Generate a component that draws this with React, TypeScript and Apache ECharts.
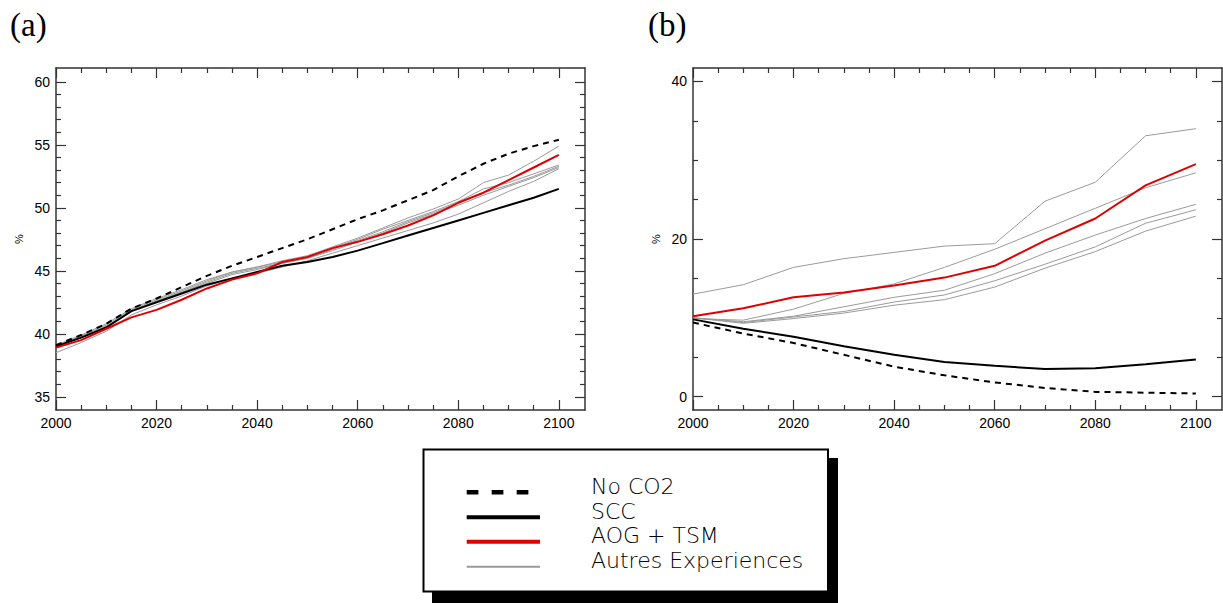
import React, { useEffect, useRef } from "react";
import * as echarts from "echarts";

// ---------- Panel (a) data ----------
const yearsA = [2000, 2005, 2010, 2015, 2020, 2025, 2030, 2035, 2040, 2045, 2050, 2055, 2060, 2065, 2070, 2075, 2080, 2085, 2090, 2095, 2100];
const noCO2A = [39.1, 39.9, 40.8, 42.0, 42.8, 43.7, 44.6, 45.4, 46.1, 46.8, 47.5, 48.3, 49.1, 49.8, 50.6, 51.4, 52.5, 53.5, 54.3, 54.9, 55.4];
const sccA = [39.0, 39.7, 40.5, 41.8, 42.5, 43.2, 43.9, 44.4, 44.9, 45.4, 45.7, 46.1, 46.6, 47.2, 47.8, 48.4, 49.0, 49.6, 50.2, 50.8, 51.5];
const aogA = [38.9, 39.5, 40.4, 41.3, 41.9, 42.7, 43.6, 44.3, 44.8, 45.7, 46.1, 46.8, 47.3, 47.9, 48.6, 49.4, 50.4, 51.2, 52.2, 53.2, 54.2];
const autresA1 = [39.1, 39.9, 40.8, 42.0, 42.8, 43.5, 44.3, 44.9, 45.3, 45.8, 46.2, 46.9, 47.6, 48.4, 49.2, 49.9, 50.7, 52.0, 52.6, 53.7, 54.9];
const autresA2 = [39.0, 39.8, 40.7, 41.9, 42.7, 43.4, 44.2, 44.9, 45.3, 45.7, 46.1, 46.8, 47.5, 48.3, 49.0, 49.7, 50.5, 51.5, 52.0, 52.7, 53.4];
const autresA3 = [39.0, 39.8, 40.6, 41.8, 42.6, 43.3, 44.1, 44.8, 45.2, 45.6, 46.0, 46.7, 47.4, 48.1, 48.9, 49.6, 50.4, 51.2, 51.8, 52.5, 53.3];
const autresA4 = [38.9, 39.7, 40.6, 41.8, 42.6, 43.3, 44.0, 44.7, 45.1, 45.6, 46.0, 46.6, 47.3, 48.0, 48.8, 49.5, 50.2, 51.0, 51.7, 52.4, 53.2];
const autresA5 = [38.5, 39.3, 40.2, 41.5, 42.3, 43.0, 43.8, 44.4, 44.8, 45.3, 45.8, 46.4, 47.0, 47.6, 48.2, 48.8, 49.5, 50.4, 51.3, 52.1, 53.1];

// ---------- Panel (b) data ----------
const yearsB = [2000, 2010, 2020, 2030, 2040, 2050, 2060, 2070, 2080, 2090, 2100];
const noCO2B = [9.4, 8.0, 6.8, 5.3, 3.8, 2.7, 1.8, 1.1, 0.6, 0.5, 0.4];
const sccB = [9.8, 8.6, 7.6, 6.4, 5.3, 4.4, 3.9, 3.5, 3.6, 4.1, 4.7];
const aogB = [10.2, 11.2, 12.6, 13.2, 14.1, 15.1, 16.6, 19.8, 22.6, 26.8, 29.5];
const autresB1 = [13.0, 14.2, 16.4, 17.5, 18.3, 19.1, 19.4, 24.8, 27.2, 33.1, 34.0];
const autresB2 = [9.9, 9.7, 11.1, 13.1, 14.3, 16.4, 18.7, 21.3, 23.9, 26.5, 28.4];
const autresB3 = [10.0, 9.5, 10.2, 11.4, 12.6, 13.5, 15.6, 18.2, 20.5, 22.6, 24.4];
const autresB4 = [10.0, 9.4, 10.1, 10.8, 12.0, 12.9, 14.7, 16.8, 19.0, 22.0, 23.7];
const autresB5 = [10.0, 9.3, 9.9, 10.6, 11.6, 12.3, 13.9, 16.3, 18.4, 21.0, 22.9];

// ---------- Ticks ----------
const xMajorTicks = [2000, 2020, 2040, 2060, 2080, 2100];
const xMinorTicks = [2005, 2010, 2015, 2025, 2030, 2035, 2045, 2050, 2055, 2065, 2070, 2075, 2085, 2090, 2095];
const yMajorTicksA = [35, 40, 45, 50, 55, 60];
const yMinorTicksA = [36, 37, 38, 39, 41, 42, 43, 44, 46, 47, 48, 49, 51, 52, 53, 54, 56, 57, 58, 59];
const yMajorTicksB = [0, 20, 40];
const yMinorTicksB = [5, 10, 15, 25, 30, 35];

const legendLabels = ["No CO2", "SCC", "AOG + TSM", "Autres Experiences"];

const AXIS_COLOR = "#333";
const RED = "#e00000";
const GRAY = "#9a9a9a";

function xAxis(gridIndex: number, position: string, ticks: number[], len: number, labels: boolean, line: boolean) {
  return {
    type: "value",
    gridIndex,
    position,
    min: 2000,
    max: 2105.2,
    axisLine: { show: line, onZero: false, lineStyle: { color: AXIS_COLOR, width: 1.5 } },
    axisTick: { show: true, inside: true, length: len, customValues: ticks, lineStyle: { color: AXIS_COLOR, width: 1.2 } },
    axisLabel: {
      show: labels,
      customValues: ticks,
      margin: 6,
      color: "#000",
      fontSize: 14,
      fontFamily: "Liberation Sans",
      formatter: (v: number) => String(v),
    },
    splitLine: { show: false },
  };
}

function yAxis(gridIndex: number, position: string, min: number, max: number, ticks: number[], len: number, labels: boolean, line: boolean, name?: string) {
  return {
    type: "value",
    gridIndex,
    position,
    min,
    max,
    name: name || "",
    nameLocation: "middle",
    nameGap: 32,
    nameRotate: 90,
    nameTextStyle: { fontSize: 11, color: "#000", fontFamily: "Liberation Sans" },
    axisLine: { show: line, onZero: false, lineStyle: { color: AXIS_COLOR, width: 1.5 } },
    axisTick: { show: true, inside: true, length: len, customValues: ticks, lineStyle: { color: AXIS_COLOR, width: 1.2 } },
    axisLabel: {
      show: labels,
      customValues: ticks,
      margin: 6,
      color: "#000",
      fontSize: 14,
      fontFamily: "Liberation Sans",
      formatter: (v: number) => String(v),
    },
    splitLine: { show: false },
  };
}

function lineSeries(name: string, years: number[], vals: number[], color: string, width: number, type: any, xi: number, yi: number, z: number) {
  return {
    type: "line",
    name,
    data: years.map((y, i) => [y, vals[i]]),
    xAxisIndex: xi,
    yAxisIndex: yi,
    symbol: "none",
    showSymbol: false,
    silent: true,
    z,
    lineStyle: { color, width, type },
  };
}

export default function App() {
  const ref = useRef<HTMLDivElement>(null);
  useEffect(() => {
    if (!ref.current) return;
    const chart = echarts.init(ref.current, undefined, { renderer: "svg" });

    const xAxes = [
      xAxis(0, "bottom", xMajorTicks, 10, true, true),
      xAxis(0, "bottom", xMinorTicks, 5, false, false),
      xAxis(0, "top", xMajorTicks, 10, false, true),
      xAxis(0, "top", xMinorTicks, 5, false, false),
      xAxis(1, "bottom", xMajorTicks, 10, true, true),
      xAxis(1, "bottom", xMinorTicks, 5, false, false),
      xAxis(1, "top", xMajorTicks, 10, false, true),
      xAxis(1, "top", xMinorTicks, 5, false, false),
    ];
    const yAxes = [
      yAxis(0, "left", 33.95, 61.1, yMajorTicksA, 10, true, true, "%"),
      yAxis(0, "left", 33.95, 61.1, yMinorTicksA, 5, false, false),
      yAxis(0, "right", 33.95, 61.1, yMajorTicksA, 10, false, true),
      yAxis(0, "right", 33.95, 61.1, yMinorTicksA, 5, false, false),
      yAxis(1, "left", -1.7, 41.7, yMajorTicksB, 10, true, true, "%"),
      yAxis(1, "left", -1.7, 41.7, yMinorTicksB, 5, false, false),
      yAxis(1, "right", -1.7, 41.7, yMajorTicksB, 10, false, true),
      yAxis(1, "right", -1.7, 41.7, yMinorTicksB, 5, false, false),
    ];

    const series: any[] = [];
    [autresA1, autresA2, autresA3, autresA4, autresA5].forEach((arr, k) =>
      series.push(lineSeries("Autres Experiences " + (k + 1), yearsA, arr, GRAY, 1, "solid", 0, 0, 2))
    );
    series.push(lineSeries("SCC", yearsA, sccA, "#000", 2, "solid", 0, 0, 3));
    series.push(lineSeries("No CO2", yearsA, noCO2A, "#000", 2, [6, 5], 0, 0, 3));
    series.push(lineSeries("AOG + TSM", yearsA, aogA, RED, 2, "solid", 0, 0, 4));

    [autresB1, autresB2, autresB3, autresB4, autresB5].forEach((arr, k) =>
      series.push(lineSeries("Autres Experiences b" + (k + 1), yearsB, arr, GRAY, 1, "solid", 4, 4, 2))
    );
    series.push(lineSeries("SCC b", yearsB, sccB, "#000", 2, "solid", 4, 4, 3));
    series.push(lineSeries("No CO2 b", yearsB, noCO2B, "#000", 2, [6, 5], 4, 4, 3));
    series.push(lineSeries("AOG + TSM b", yearsB, aogB, RED, 2, "solid", 4, 4, 4));

    const legendRows = [486.7, 511.3, 535.8, 560.3];
    const textStyle = (text: string, y: number) => ({
      type: "text",
      style: {
        text,
        x: 591,
        y,
        fill: "#000",
        fontSize: 22,
        fontFamily: "DejaVu Sans",
        fontWeight: 200,
        verticalAlign: "middle",
        align: "left",
      },
      z: 20,
    });

    const graphic: any[] = [
      {
        type: "text",
        style: { text: "(a)", x: 10, y: 25, fill: "#000", fontSize: 33, fontFamily: "Liberation Serif", verticalAlign: "middle" },
      },
      {
        type: "text",
        style: { text: "(b)", x: 648, y: 25, fill: "#000", fontSize: 33, fontFamily: "Liberation Serif", verticalAlign: "middle" },
      },
      { type: "rect", shape: { x: 432, y: 458, width: 406, height: 145 }, style: { fill: "#000" }, z: 10 },
      {
        type: "rect",
        shape: { x: 423.5, y: 449.5, width: 404.5, height: 142 },
        style: { fill: "#fff", stroke: "#000", lineWidth: 2 },
        z: 11,
      },
      {
        type: "line",
        shape: { x1: 466.7, y1: 492.3, x2: 528.5, y2: 492.3 },
        style: { stroke: "#000", lineWidth: 4.5, lineDash: [11.7, 13.3] },
        z: 20,
      },
      { type: "line", shape: { x1: 466.7, y1: 517.3, x2: 540, y2: 517.3 }, style: { stroke: "#000", lineWidth: 4 }, z: 20 },
      { type: "line", shape: { x1: 466.7, y1: 541.7, x2: 540, y2: 541.7 }, style: { stroke: RED, lineWidth: 4 }, z: 20 },
      { type: "line", shape: { x1: 466.7, y1: 566.7, x2: 540, y2: 566.7 }, style: { stroke: GRAY, lineWidth: 2 }, z: 20 },
      ...legendLabels.map((t, i) => textStyle(t, legendRows[i])),
    ];

    chart.setOption({
      animation: false,
      backgroundColor: "#fff",
      grid: [
        { left: 56, top: 68, width: 529, height: 342, outerBoundsMode: "none", containLabel: false },
        { left: 693, top: 68, width: 529, height: 342, outerBoundsMode: "none", containLabel: false },
      ],
      xAxis: xAxes,
      yAxis: yAxes,
      series,
      graphic,
    });

    return () => chart.dispose();
  }, []);

  return (
    <div
      ref={ref}
      style={{ position: "fixed", left: 0, top: 0, width: 1223, height: 603, background: "#fff" }}
    />
  );
}
